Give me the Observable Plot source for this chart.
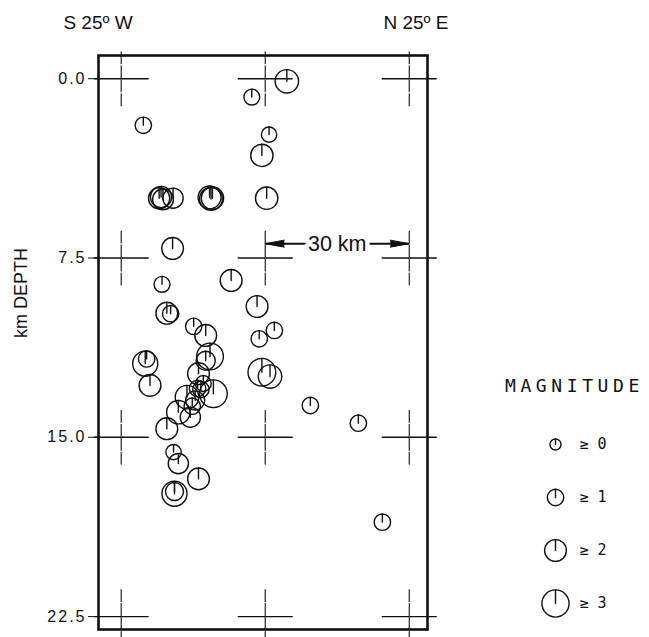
<!DOCTYPE html>
<html><head><meta charset="utf-8">
<script src="https://cdn.jsdelivr.net/npm/d3@7"></script>
<script src="https://cdn.jsdelivr.net/npm/@observablehq/plot@0.6"></script>
<style>
body{margin:0;background:#fff;}
#wrap{position:relative;width:649px;height:637px;font-family:"Liberation Sans",Arial,sans-serif;color:#111;}
.lbl{position:absolute;white-space:nowrap;line-height:1;}
#wrap svg{position:absolute;left:0;top:0;}
#wrap svg g[aria-label="y-axis tick label"] text{letter-spacing:2px;}
</style></head><body><div id="wrap"></div>
<script>
// Earthquake hypocentres projected on the S25W – N25E section
const distanceKm = [34.5, 27.2, 4.6, 30.8, 29.3, 7.9, 8.3, 8.7, 10.8, 18.4, 18.7, 19.0, 30.3, 10.7, 22.9, 8.5, 28.3, 9.5, 10.3, 15.1, 17.6, 28.75, 31.9, 5.0, 5.3, 6.0, 18.5, 17.6, 16.1, 29.3, 31.0, 19.2, 13.7, 15.4, 16.6, 14.8, 15.9, 17.1, 11.9, 14.4, 9.5, 10.9, 11.9, 16.1, 11.1, 11.1, 39.4, 49.4, 54.4];
const depthKm    = [0.11, 0.77, 1.95, 2.34, 3.21, 5.0, 4.95, 5.05, 5.0, 4.97, 5.03, 5.0, 5.0, 7.1, 8.44, 8.6, 9.53, 9.81, 9.83, 10.36, 10.74, 10.88, 10.53, 11.92, 11.72, 12.83, 11.62, 11.8, 12.34, 12.28, 12.46, 13.18, 13.32, 13.46, 13.0, 13.7, 12.96, 12.75, 13.95, 14.16, 14.64, 15.62, 16.1, 16.74, 17.36, 17.27, 13.67, 14.41, 18.55];
const magnitude  = [2.3, 0.9, 1.0, 0.8, 2.1, 1.9, 1.9, 1.8, 1.7, 2.2, 2.2, 2.1, 2.1, 2.0, 2.0, 0.9, 2.0, 2.0, 1.0, 1.0, 2.0, 1.0, 1.0, 2.6, 1.0, 2.0, 2.9, 1.5, 2.0, 3.1, 2.3, 3.1, 2.3, 1.5, 1.0, 1.0, 1.0, 0.9, 2.3, 1.7, 2.0, 0.8, 1.7, 2.0, 2.6, 1.3, 1.0, 1.0, 1.0];

const gridDistance = [0, 30, 60];
const gridDepth = [0, 7.5, 15, 22.5];
const depthTicks = [0, 7.5, 15, 22.5];

const legendMagnitudes = [0, 1, 2, 3];
const legendLabels = ["≥ 0", "≥ 1", "≥ 2", "≥ 3"];

const scaleBarFrom = 30, scaleBarTo = 60, scaleBarDepth = 6.9, scaleBarLabel = "30 km";
const leftTitle = "S 25º W", rightTitle = "N 25º E", yTitle = "km DEPTH", legendTitle = "MAGNITUDE";

const events = distanceKm.map((x, i) => ({x, depth: depthKm[i], mag: magnitude[i]}));
const crosses = gridDistance.flatMap(x => gridDepth.map(d => ({x, depth: d})));
const bar = [{x1: scaleBarFrom, x2: scaleBarTo, xm: (scaleBarFrom + scaleBarTo) / 2, depth: scaleBarDepth, label: scaleBarLabel}];
const heads = [{x: scaleBarFrom, depth: scaleBarDepth, rot: -90}, {x: scaleBarTo, depth: scaleBarDepth, rot: 90}];

const sizeScale = {type: "linear", domain: [0, 3], range: [5.5, 13.6]};
const ink = "#111";

const chart = Plot.plot({
  width: 649, height: 637,
  marginLeft: 98, marginRight: 222, marginTop: 55, marginBottom: 8,
  x: {domain: [-4.73, 63.8], axis: null},
  y: {domain: [-0.97, 23.04], reverse: true},
  r: sizeScale,
  length: sizeScale,
  style: {fontFamily: "'Liberation Sans', Arial, sans-serif", background: "transparent", color: ink},
  marks: [
    Plot.axisY({ticks: depthTicks, tickFormat: d3.format(".1f"), tickSize: 10, tickPadding: 2, fontSize: 16, label: null}),
    // grid crosses: solid horizontal arm, lightly broken vertical arm
    Plot.vector(crosses, {x: "x", y: "depth", rotate: 90, length: 54, anchor: "middle", r: 0, stroke: ink, strokeWidth: 1.4}),
    Plot.vector(crosses, {x: "x", y: "depth", rotate: 0, length: 54, anchor: "middle", r: 0, stroke: ink, strokeWidth: 1.1, strokeDasharray: "12,2"}),
    Plot.frame({stroke: ink, strokeWidth: 2.6}),
    Plot.ruleY(bar, {x1: "x1", x2: "x2", y: "depth", stroke: ink, strokeWidth: 2}),
    Plot.text(bar, {x: "xm", y: "depth", text: "label", fontSize: 21.5, fill: ink, stroke: "white", strokeWidth: 9}),
    Plot.vector(heads, {x: "x", y: "depth", rotate: "rot", length: 19, r: 3.5, anchor: "end", shape: "spike", fill: ink, stroke: ink, strokeWidth: 1}),
    Plot.dot(events, {x: "x", y: "depth", r: "mag", stroke: ink, fill: "none", strokeWidth: 1.4}),
    Plot.vector(events, {x: "x", y: "depth", length: "mag", rotate: 0, anchor: "start", r: 0, stroke: ink, strokeWidth: 1.4})
  ]
});

const legend = Plot.plot({
  width: 169, height: 277,
  marginLeft: 0, marginRight: 19, marginTop: 0, marginBottom: 0,
  y: {type: "point", domain: legendMagnitudes, range: [83, 244], padding: 0, axis: null},
  r: sizeScale, length: sizeScale,
  style: {fontFamily: "'DejaVu Sans Mono', monospace", background: "transparent", color: ink},
  marks: [
    Plot.dot(legendMagnitudes, {y: d => d, r: d => d, stroke: ink, fill: "none", strokeWidth: 1.4}),
    Plot.vector(legendMagnitudes, {y: d => d, length: d => d, rotate: 0, anchor: "start", r: 0, stroke: ink, strokeWidth: 1.4}),
    Plot.text(legendMagnitudes, {y: d => d, text: (d, i) => legendLabels[i], textAnchor: "start", dx: 24, fontSize: 15, fill: ink})
  ]
});
legend.style.left = "480px";
legend.style.top = "360px";

const wrap = document.getElementById("wrap");
wrap.appendChild(chart);
wrap.appendChild(legend);

function label(text, css) {
  const el = document.createElement("div");
  el.className = "lbl";
  el.textContent = text;
  Object.assign(el.style, css);
  wrap.appendChild(el);
}
label(leftTitle, {left: "98px", top: "13px", fontSize: "19px", transform: "translateX(-50%)"});
label(rightTitle, {left: "416px", top: "13px", fontSize: "19px", transform: "translateX(-50%)"});
label(yTitle, {left: "21px", top: "293px", fontSize: "18px", transform: "translate(-50%,-50%) rotate(-90deg)"});
label(legendTitle, {left: "505px", top: "377px", fontSize: "18px", fontFamily: "'DejaVu Sans Mono', monospace", letterSpacing: "4.6px"});
</script></body></html>
